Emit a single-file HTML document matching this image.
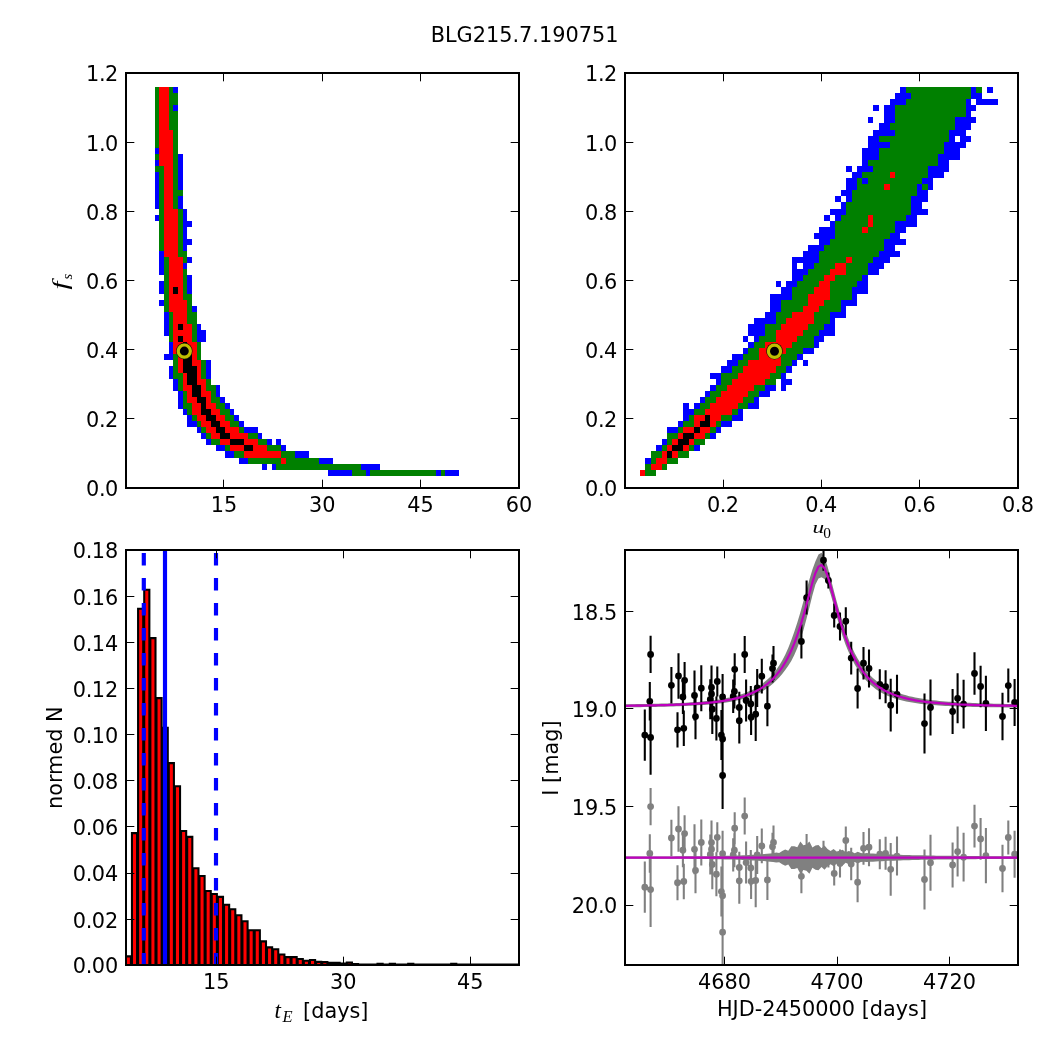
<!DOCTYPE html>
<html lang="en"><head><meta charset="utf-8"><title>BLG215.7.190751</title>
<style>html,body{margin:0;padding:0;background:#fff}svg{display:block}text{font-family:"DejaVu Sans","Liberation Sans",sans-serif;font-size:20.83px;fill:#000}.m{font-family:"Liberation Serif","DejaVu Serif",serif;font-style:italic}.s{font-size:14.6px}.r{font-family:"Liberation Serif","DejaVu Serif",serif;font-size:15.4px}</style></head><body>
<svg width="1050" height="1050" viewBox="0 0 1050 1050">
<rect width="1050" height="1050" fill="#fff"/>
<text x="524.6" y="41.6" text-anchor="middle">BLG215.7.190751</text>
<path d="M159 87h10v6h-10zM159 93h10v6h-10zM159 99h10v6h-10zM159 105h10v6h-10zM159 111h10v6h-10zM159 117h10v6h-10zM159 123h10v7h-10zM159 130h14v6h-14zM159 136h14v6h-14zM159 142h14v6h-14zM159 148h14v6h-14zM159 154h14v6h-14zM159 160h14v6h-14zM164 166h9v6h-9zM164 172h9v6h-9zM164 178h9v6h-9zM164 184h9v6h-9zM164 190h9v6h-9zM164 196h9v6h-9zM164 202h9v7h-9zM164 209h14v6h-14zM164 215h14v6h-14zM164 221h14v6h-14zM164 227h14v6h-14zM164 233h14v6h-14zM164 239h14v6h-14zM164 245h14v6h-14zM164 251h14v6h-14zM169 257h14v6h-14zM169 263h14v6h-14zM169 269h14v6h-14zM169 275h14v6h-14zM169 281h14v6h-14zM169 287h4v7h-4zM178 287h5v7h-5zM169 294h14v6h-14zM169 300h18v6h-18zM169 306h18v6h-18zM173 312h14v6h-14zM173 318h14v6h-14zM173 324h5v6h-5zM183 324h9v6h-9zM173 330h19v6h-19zM173 336h5v6h-5zM183 336h9v6h-9zM173 342h10v6h-10zM187 342h10v6h-10zM173 348h10v6h-10zM187 348h10v6h-10zM178 354h5v6h-5zM192 354h5v6h-5zM178 360h5v6h-5zM192 360h9v6h-9zM178 366h5v7h-5zM197 366h4v7h-4zM183 373h4v6h-4zM197 373h4v6h-4zM183 379h4v6h-4zM197 379h9v6h-9zM183 385h9v6h-9zM201 385h5v6h-5zM187 391h5v6h-5zM201 391h10v6h-10zM187 397h10v6h-10zM206 397h5v6h-5zM192 403h9v6h-9zM206 403h10v6h-10zM192 409h9v6h-9zM211 409h9v6h-9zM197 415h9v6h-9zM216 415h9v6h-9zM201 421h10v6h-10zM220 421h10v6h-10zM206 427h10v6h-10zM225 427h14v6h-14zM211 433h9v6h-9zM230 433h18v6h-18zM220 439h10v6h-10zM244 439h14v6h-14zM230 445h14v6h-14zM253 445h14v6h-14zM244 451h37v7h-37zM281 458h5v6h-5z" fill="#ff0000" shape-rendering="crispEdges"/>
<path d="M155 87h4v6h-4zM169 87h4v6h-4zM155 93h4v6h-4zM169 93h9v6h-9zM155 99h4v6h-4zM169 99h9v6h-9zM155 105h4v6h-4zM169 105h4v6h-4zM155 111h4v6h-4zM169 111h9v6h-9zM155 117h4v6h-4zM169 117h9v6h-9zM155 123h4v7h-4zM169 123h9v7h-9zM155 130h4v6h-4zM173 130h5v6h-5zM155 136h4v6h-4zM173 136h5v6h-5zM155 142h4v6h-4zM173 142h5v6h-5zM173 148h5v6h-5zM155 154h4v6h-4zM173 154h5v6h-5zM173 160h5v6h-5zM155 166h9v6h-9zM173 166h5v6h-5zM159 172h5v6h-5zM173 172h5v6h-5zM159 178h5v6h-5zM173 178h5v6h-5zM159 184h5v6h-5zM173 184h5v6h-5zM159 190h5v6h-5zM173 190h10v6h-10zM159 196h5v6h-5zM173 196h5v6h-5zM159 202h5v7h-5zM173 202h5v7h-5zM159 209h5v6h-5zM178 209h5v6h-5zM159 215h5v6h-5zM178 215h5v6h-5zM159 221h5v6h-5zM178 221h5v6h-5zM159 227h5v6h-5zM178 227h5v6h-5zM159 233h5v6h-5zM178 233h5v6h-5zM159 239h5v6h-5zM178 239h5v6h-5zM159 245h5v6h-5zM178 245h5v6h-5zM178 251h9v6h-9zM164 257h5v6h-5zM183 257h4v6h-4zM164 263h5v6h-5zM164 269h5v6h-5zM183 269h4v6h-4zM164 275h5v6h-5zM183 275h4v6h-4zM164 281h5v6h-5zM183 281h4v6h-4zM164 287h5v7h-5zM183 287h4v7h-4zM164 294h5v6h-5zM183 294h9v6h-9zM164 300h5v6h-5zM187 300h5v6h-5zM164 306h5v6h-5zM187 306h5v6h-5zM169 312h4v6h-4zM187 312h10v6h-10zM169 318h4v6h-4zM187 318h10v6h-10zM169 324h4v6h-4zM192 324h5v6h-5zM169 330h4v6h-4zM192 330h5v6h-5zM169 336h4v6h-4zM192 336h5v6h-5zM197 342h4v6h-4zM197 348h4v6h-4zM173 354h5v6h-5zM197 354h4v6h-4zM173 360h5v6h-5zM201 360h5v6h-5zM173 366h5v7h-5zM201 366h5v7h-5zM173 373h10v6h-10zM201 373h5v6h-5zM178 379h5v6h-5zM206 379h5v6h-5zM178 385h5v6h-5zM206 385h10v6h-10zM183 391h4v6h-4zM211 391h5v6h-5zM183 397h4v6h-4zM211 397h9v6h-9zM183 403h9v6h-9zM216 403h9v6h-9zM187 409h5v6h-5zM220 409h10v6h-10zM192 415h5v6h-5zM225 415h9v6h-9zM197 421h4v6h-4zM230 421h9v6h-9zM201 427h5v6h-5zM239 427h5v6h-5zM206 433h5v6h-5zM248 433h10v6h-10zM211 439h9v6h-9zM258 439h9v6h-9zM225 445h5v6h-5zM267 445h14v6h-14zM234 451h10v7h-10zM281 451h14v7h-14zM248 458h33v6h-33zM286 458h33v6h-33zM276 464h85v6h-85zM352 470h14v6h-14zM370 470h66v6h-66zM441 470h4v6h-4z" fill="#008000" shape-rendering="crispEdges"/>
<path d="M173 87h5v6h-5zM173 105h5v6h-5zM155 148h4v6h-4zM178 154h5v6h-5zM155 160h4v6h-4zM178 160h5v6h-5zM178 166h5v6h-5zM155 172h4v6h-4zM178 172h5v6h-5zM155 178h4v6h-4zM178 178h5v6h-5zM155 184h4v6h-4zM178 184h5v6h-5zM155 190h4v6h-4zM155 196h4v6h-4zM178 196h5v6h-5zM155 202h4v7h-4zM178 202h5v7h-5zM183 209h4v6h-4zM155 215h4v6h-4zM183 215h4v6h-4zM183 221h9v6h-9zM183 227h4v6h-4zM183 233h4v6h-4zM183 239h9v6h-9zM183 245h4v6h-4zM159 251h5v6h-5zM159 257h5v6h-5zM187 257h5v6h-5zM159 263h5v6h-5zM183 263h4v6h-4zM159 269h5v6h-5zM187 275h5v6h-5zM159 281h5v6h-5zM187 281h5v6h-5zM159 287h5v7h-5zM187 287h5v7h-5zM159 300h5v6h-5zM192 306h5v6h-5zM164 312h5v6h-5zM164 318h5v6h-5zM164 324h5v6h-5zM197 324h4v6h-4zM164 330h5v6h-5zM197 330h9v6h-9zM197 336h9v6h-9zM169 342h4v6h-4zM169 348h4v6h-4zM164 354h9v6h-9zM206 360h5v6h-5zM169 366h4v7h-4zM206 366h5v7h-5zM169 373h4v6h-4zM206 373h5v6h-5zM173 379h5v6h-5zM173 385h5v6h-5zM216 385h4v6h-4zM178 391h5v6h-5zM216 391h4v6h-4zM178 397h5v6h-5zM220 397h5v6h-5zM178 403h5v6h-5zM225 403h5v6h-5zM183 409h4v6h-4zM230 409h4v6h-4zM187 415h5v6h-5zM234 415h5v6h-5zM187 421h10v6h-10zM239 421h5v6h-5zM197 427h4v6h-4zM244 427h14v6h-14zM201 433h5v6h-5zM258 433h4v6h-4zM206 439h5v6h-5zM267 439h5v6h-5zM276 439h5v6h-5zM216 445h9v6h-9zM281 445h5v6h-5zM225 451h9v7h-9zM295 451h14v7h-14zM239 458h9v6h-9zM319 458h14v6h-14zM262 464h5v6h-5zM272 464h4v6h-4zM361 464h19v6h-19zM328 470h24v6h-24zM366 470h4v6h-4zM436 470h5v6h-5zM445 470h14v6h-14z" fill="#0000ff" shape-rendering="crispEdges"/>
<path d="M173 287h5v7h-5zM178 324h5v6h-5zM178 336h5v6h-5zM183 342h4v6h-4zM183 348h4v6h-4zM183 354h9v6h-9zM183 360h9v6h-9zM183 366h14v7h-14zM187 373h10v6h-10zM187 379h10v6h-10zM192 385h9v6h-9zM192 391h9v6h-9zM197 397h9v6h-9zM201 403h5v6h-5zM201 409h10v6h-10zM206 415h10v6h-10zM211 421h9v6h-9zM216 427h9v6h-9zM220 433h10v6h-10zM230 439h14v6h-14zM244 445h9v6h-9z" fill="#000000" shape-rendering="crispEdges"/>
<circle cx="184.3" cy="351.1" r="8.3" fill="#141400"/>
<circle cx="184.3" cy="351.1" r="6.1" fill="#000" stroke="#bfbf00" stroke-width="3.2"/>
<rect x="126" y="73" width="393" height="415" fill="none" stroke="#000" stroke-width="2"/>
<path d="M223.5 488v-8.33M223.5 73v8.33M322.5 488v-8.33M322.5 73v8.33M420.5 488v-8.33M420.5 73v8.33M126 418.5h8.33M519 418.5h-8.33M126 349.5h8.33M519 349.5h-8.33M126 280.5h8.33M519 280.5h-8.33M126 211.5h8.33M519 211.5h-8.33M126 142.5h8.33M519 142.5h-8.33" stroke="#000" stroke-width="1" fill="none"/>
<text x="223.9" y="512.23" text-anchor="middle">15</text>
<text x="322.2" y="512.23" text-anchor="middle">30</text>
<text x="420.5" y="512.23" text-anchor="middle">45</text>
<text x="519" y="512.23" text-anchor="middle">60</text>
<text x="118.27" y="496.4" text-anchor="end">0<tspan dx="-0.5">.</tspan><tspan dx="-0.5">0</tspan></text>
<text x="118.27" y="427.12" text-anchor="end">0<tspan dx="-0.5">.</tspan><tspan dx="-0.5">2</tspan></text>
<text x="118.27" y="358.03" text-anchor="end">0<tspan dx="-0.5">.</tspan><tspan dx="-0.5">4</tspan></text>
<text x="118.27" y="288.95" text-anchor="end">0<tspan dx="-0.5">.</tspan><tspan dx="-0.5">6</tspan></text>
<text x="118.27" y="219.87" text-anchor="end">0<tspan dx="-0.5">.</tspan><tspan dx="-0.5">8</tspan></text>
<text x="118.27" y="150.78" text-anchor="end">1<tspan dx="-0.5">.</tspan><tspan dx="-0.5">0</tspan></text>
<text x="118.27" y="81.4" text-anchor="end">1<tspan dx="-0.5">.</tspan><tspan dx="-0.5">2</tspan></text>
<text class="m" transform="translate(67.4 289.4) rotate(-90) scale(1.4 1)">f</text>
<text class="m s" transform="translate(72.2 279.4) rotate(-90)">s</text>
<path d="M890 172h5v6h-5zM884 184h6v6h-6zM868 215h5v6h-5zM868 221h5v6h-5zM862 227h6v6h-6zM846 257h6v6h-6zM835 263h11v6h-11zM830 269h16v6h-16zM824 275h11v6h-11zM819 281h11v6h-11zM814 287h16v7h-16zM808 294h22v6h-22zM808 300h16v6h-16zM803 306h16v6h-16zM792 312h22v6h-22zM786 318h28v6h-28zM781 324h27v6h-27zM776 330h27v6h-27zM776 336h21v6h-21zM765 342h27v6h-27zM759 348h27v6h-27zM759 354h22v6h-22zM748 360h33v6h-33zM743 366h33v7h-33zM738 373h32v6h-32zM732 379h33v6h-33zM727 385h27v6h-27zM721 391h27v6h-27zM716 397h27v6h-27zM710 403h28v6h-28zM705 409h27v6h-27zM694 415h11v6h-11zM710 415h11v6h-11zM694 421h6v6h-6zM710 421h6v6h-6zM683 427h11v6h-11zM700 427h10v6h-10zM678 433h5v6h-5zM694 433h11v6h-11zM672 439h6v6h-6zM689 439h5v6h-5zM667 445h5v6h-5zM683 445h6v6h-6zM662 451h5v7h-5zM672 451h6v7h-6zM656 458h11v6h-11zM651 464h11v6h-11zM640 470h5v6h-5z" fill="#ff0000" shape-rendering="crispEdges"/>
<path d="M906 87h65v6h-65zM976 87h6v6h-6zM911 93h60v6h-60zM906 99h60v6h-60zM895 105h71v6h-71zM895 111h71v6h-71zM895 117h60v6h-60zM890 123h65v7h-65zM895 130h54v6h-54zM879 136h70v6h-70zM890 142h54v6h-54zM879 148h65v6h-65zM879 154h59v6h-59zM868 160h70v6h-70zM873 166h55v6h-55zM862 172h28v6h-28zM895 172h33v6h-33zM857 178h5v6h-5zM868 178h54v6h-54zM857 184h27v6h-27zM890 184h27v6h-27zM922 184h6v6h-6zM852 190h65v6h-65zM852 196h59v6h-59zM846 202h65v7h-65zM846 209h65v6h-65zM841 215h27v6h-27zM873 215h33v6h-33zM835 221h33v6h-33zM873 221h22v6h-22zM835 227h27v6h-27zM868 227h27v6h-27zM835 233h55v6h-55zM830 239h54v6h-54zM824 245h60v6h-60zM819 251h60v6h-60zM819 257h27v6h-27zM852 257h21v6h-21zM814 263h21v6h-21zM846 263h22v6h-22zM808 269h22v6h-22zM846 269h22v6h-22zM803 275h21v6h-21zM835 275h27v6h-27zM797 281h22v6h-22zM830 281h27v6h-27zM792 287h22v7h-22zM830 287h22v7h-22zM792 294h16v6h-16zM830 294h22v6h-22zM781 300h27v6h-27zM824 300h17v6h-17zM781 306h22v6h-22zM819 306h22v6h-22zM776 312h16v6h-16zM814 312h16v6h-16zM776 318h10v6h-10zM814 318h16v6h-16zM765 324h16v6h-16zM808 324h16v6h-16zM765 330h11v6h-11zM803 330h16v6h-16zM759 336h17v6h-17zM797 336h17v6h-17zM754 342h11v6h-11zM792 342h22v6h-22zM748 348h11v6h-11zM786 348h17v6h-17zM743 354h16v6h-16zM781 354h16v6h-16zM738 360h10v6h-10zM781 360h11v6h-11zM732 366h11v7h-11zM776 366h10v7h-10zM721 373h17v6h-17zM770 373h11v6h-11zM721 379h11v6h-11zM765 379h11v6h-11zM716 385h11v6h-11zM754 385h11v6h-11zM710 391h11v6h-11zM748 391h11v6h-11zM705 397h11v6h-11zM743 397h11v6h-11zM700 403h10v6h-10zM738 403h10v6h-10zM694 409h11v6h-11zM732 409h6v6h-6zM689 415h5v6h-5zM721 415h11v6h-11zM683 421h11v6h-11zM716 421h5v6h-5zM678 427h5v6h-5zM710 427h6v6h-6zM667 433h11v6h-11zM705 433h5v6h-5zM667 439h5v6h-5zM694 439h11v6h-11zM662 445h5v6h-5zM689 445h5v6h-5zM651 451h11v7h-11zM678 451h11v7h-11zM651 458h5v6h-5zM667 458h11v6h-11zM645 464h6v6h-6zM662 464h5v6h-5zM645 470h11v6h-11z" fill="#008000" shape-rendering="crispEdges"/>
<path d="M900 87h6v6h-6zM971 87h5v6h-5zM987 87h6v6h-6zM895 93h16v6h-16zM971 93h11v6h-11zM890 99h16v6h-16zM966 99h5v6h-5zM976 99h22v6h-22zM873 105h6v6h-6zM884 105h11v6h-11zM966 105h10v6h-10zM884 111h11v6h-11zM966 111h5v6h-5zM868 117h5v6h-5zM884 117h11v6h-11zM955 117h21v6h-21zM879 123h11v7h-11zM955 123h16v7h-16zM873 130h22v6h-22zM949 130h17v6h-17zM868 136h11v6h-11zM949 136h6v6h-6zM960 136h11v6h-11zM868 142h22v6h-22zM944 142h22v6h-22zM862 148h17v6h-17zM944 148h16v6h-16zM862 154h17v6h-17zM938 154h22v6h-22zM862 160h6v6h-6zM938 160h11v6h-11zM846 166h6v6h-6zM857 166h16v6h-16zM928 166h21v6h-21zM852 172h10v6h-10zM928 172h16v6h-16zM846 178h11v6h-11zM862 178h6v6h-6zM922 178h11v6h-11zM846 184h11v6h-11zM917 184h5v6h-5zM928 184h5v6h-5zM841 190h11v6h-11zM917 190h11v6h-11zM835 196h6v6h-6zM846 196h6v6h-6zM911 196h17v6h-17zM841 202h5v7h-5zM911 202h11v7h-11zM830 209h16v6h-16zM911 209h17v6h-17zM824 215h6v6h-6zM835 215h6v6h-6zM906 215h11v6h-11zM830 221h5v6h-5zM895 221h22v6h-22zM819 227h16v6h-16zM895 227h11v6h-11zM814 233h21v6h-21zM890 233h10v6h-10zM819 239h11v6h-11zM884 239h22v6h-22zM808 245h16v6h-16zM884 245h11v6h-11zM803 251h16v6h-16zM879 251h21v6h-21zM792 257h27v6h-27zM873 257h17v6h-17zM792 263h5v6h-5zM803 263h11v6h-11zM868 263h16v6h-16zM792 269h16v6h-16zM868 269h11v6h-11zM792 275h11v6h-11zM862 275h6v6h-6zM776 281h5v6h-5zM786 281h11v6h-11zM857 281h11v6h-11zM781 287h11v7h-11zM852 287h16v7h-16zM770 294h22v6h-22zM852 294h5v6h-5zM770 300h11v6h-11zM841 300h16v6h-16zM770 306h11v6h-11zM841 306h5v6h-5zM765 312h11v6h-11zM830 312h16v6h-16zM754 318h22v6h-22zM830 318h5v6h-5zM748 324h17v6h-17zM824 324h11v6h-11zM748 330h17v6h-17zM819 330h16v6h-16zM743 336h5v6h-5zM754 336h5v6h-5zM814 336h10v6h-10zM748 342h6v6h-6zM814 342h5v6h-5zM743 348h5v6h-5zM803 348h11v6h-11zM732 354h11v6h-11zM797 354h6v6h-6zM727 360h11v6h-11zM792 360h5v6h-5zM803 360h5v6h-5zM721 366h11v7h-11zM786 366h6v7h-6zM710 373h11v6h-11zM781 373h5v6h-5zM716 379h5v6h-5zM781 379h11v6h-11zM710 385h6v6h-6zM765 385h11v6h-11zM781 385h5v6h-5zM705 391h5v6h-5zM759 391h11v6h-11zM700 397h5v6h-5zM754 397h5v6h-5zM683 403h6v6h-6zM694 403h6v6h-6zM748 403h11v6h-11zM683 409h11v6h-11zM738 409h5v6h-5zM683 415h6v6h-6zM732 415h11v6h-11zM678 421h5v6h-5zM721 421h11v6h-11zM667 427h11v6h-11zM716 427h5v6h-5zM710 433h6v6h-6zM662 439h5v6h-5zM656 445h6v6h-6zM694 445h6v6h-6zM645 458h6v6h-6z" fill="#0000ff" shape-rendering="crispEdges"/>
<path d="M705 415h5v6h-5zM700 421h10v6h-10zM694 427h6v6h-6zM683 433h11v6h-11zM678 439h11v6h-11zM672 445h11v6h-11zM667 451h5v7h-5z" fill="#000000" shape-rendering="crispEdges"/>
<circle cx="774.5" cy="351.2" r="8.3" fill="#141400"/>
<circle cx="774.5" cy="351.2" r="6.1" fill="#000" stroke="#bfbf00" stroke-width="3.2"/>
<rect x="625" y="73" width="393" height="415" fill="none" stroke="#000" stroke-width="2"/>
<path d="M723.5 488v-8.33M723.5 73v8.33M821.5 488v-8.33M821.5 73v8.33M919.5 488v-8.33M919.5 73v8.33M625 418.5h8.33M1018 418.5h-8.33M625 349.5h8.33M1018 349.5h-8.33M625 280.5h8.33M1018 280.5h-8.33M625 211.5h8.33M1018 211.5h-8.33M625 142.5h8.33M1018 142.5h-8.33" stroke="#000" stroke-width="1" fill="none"/>
<text x="723" y="512.23" text-anchor="middle">0<tspan dx="-0.5">.</tspan><tspan dx="-0.5">2</tspan></text>
<text x="821.3" y="512.23" text-anchor="middle">0<tspan dx="-0.5">.</tspan><tspan dx="-0.5">4</tspan></text>
<text x="919.6" y="512.23" text-anchor="middle">0<tspan dx="-0.5">.</tspan><tspan dx="-0.5">6</tspan></text>
<text x="1018" y="512.23" text-anchor="middle">0<tspan dx="-0.5">.</tspan><tspan dx="-0.5">8</tspan></text>
<text x="617.27" y="496.4" text-anchor="end">0<tspan dx="-0.5">.</tspan><tspan dx="-0.5">0</tspan></text>
<text x="617.27" y="427.12" text-anchor="end">0<tspan dx="-0.5">.</tspan><tspan dx="-0.5">2</tspan></text>
<text x="617.27" y="358.03" text-anchor="end">0<tspan dx="-0.5">.</tspan><tspan dx="-0.5">4</tspan></text>
<text x="617.27" y="288.95" text-anchor="end">0<tspan dx="-0.5">.</tspan><tspan dx="-0.5">6</tspan></text>
<text x="617.27" y="219.87" text-anchor="end">0<tspan dx="-0.5">.</tspan><tspan dx="-0.5">8</tspan></text>
<text x="617.27" y="150.78" text-anchor="end">1<tspan dx="-0.5">.</tspan><tspan dx="-0.5">0</tspan></text>
<text x="617.27" y="81.4" text-anchor="end">1<tspan dx="-0.5">.</tspan><tspan dx="-0.5">2</tspan></text>
<text class="m" transform="translate(812.4 532.6) scale(1.12 0.84)">u</text>
<text class="r" x="823.2" y="537.6">0</text>
<clipPath id="c3"><rect x="125" y="550" width="395" height="416.04"/></clipPath><g clip-path="url(#c3)">
<path d="M125.8 965V956.4H130.94V965zM131.94 965V833.1H137.08V965zM138.08 965V608.7H143.22V965zM144.22 965V589.7H149.36V965zM150.36 965V638.1H155.5V965zM156.5 965V698.1H161.63V965zM162.63 965V727.7H167.77V965zM168.77 965V763.1H173.91V965zM174.91 965V786.2H180.05V965zM181.05 965V831H186.19V965zM187.19 965V836.9H192.33V965zM193.33 965V868.3H198.47V965zM199.47 965V876H204.61V965zM205.61 965V891H210.75V965zM211.75 965V894H216.88V965zM217.88 965V896.9H223.02V965zM224.02 965V904.8H229.16V965zM230.16 965V909.3H235.3V965zM236.3 965V915.2H241.44V965zM242.44 965V921.2H247.58V965zM248.58 965V930.2H253.72V965zM254.72 965V930.2H259.86V965zM260.86 965V941.4H266V965zM267 965V947.4H272.14V965zM273.14 965V949.3H278.27V965zM279.27 965V954.5H284.41V965zM285.41 965V957.1H290.55V965zM291.55 965V957.1H296.69V965zM297.69 965V959H302.83V965zM303.83 965V960.7H308.97V965zM309.97 965V960H315.11V965zM316.11 965V961.9H321.25V965zM322.25 965V962.1H327.39V965zM328.39 965V962.9H333.53V965zM334.53 965V962.9H339.67V965zM340.67 965V963.5H345.8V965zM346.8 965V962.6H351.94V965zM352.94 965V964H358.08V965zM359.08 965V964.6H364.22V965zM365.22 965V964.6H370.36V965zM371.36 965V964.6H376.5V965zM377.5 965V963.7H382.64V965zM383.64 965V964.6H388.78V965zM389.78 965V963.7H394.92V965zM395.92 965V964.6H401.06V965zM402.06 965V964.6H407.19V965zM408.19 965V963.7H413.33V965zM414.33 965V964.6H419.47V965zM420.47 965V964.6H425.61V965zM426.61 965V964.6H431.75V965zM432.75 965V964.6H437.89V965zM438.89 965V964.6H444.03V965zM445.03 965V964.6H450.17V965zM451.17 965V963.7H456.31V965zM457.31 965V964.6H462.45V965zM463.45 965V964.6H468.58V965zM469.58 965V964.6H474.72V965zM475.72 965V964.6H480.86V965zM481.86 965V964.6H487V965zM488 965V964.6H493.14V965zM494.14 965V964.6H499.28V965zM500.28 965V964.6H505.42V965zM506.42 965V964.6H511.56V965zM512.56 965V964.6H517.7V965z" fill="#ff0000" stroke="#000" stroke-width="2.08"/>
</g>
<path d="M143.8 965.6V550" stroke="#0000ff" stroke-width="4.17" stroke-dasharray="12.5 12.5" fill="none"/>
<path d="M216 965.6V550" stroke="#0000ff" stroke-width="4.17" stroke-dasharray="12.5 12.5" fill="none"/>
<path d="M165 965V550" stroke="#0000ff" stroke-width="4.17" fill="none"/>
<rect x="126" y="550" width="393" height="415" fill="none" stroke="#000" stroke-width="2"/>
<path d="M216.5 965v-8.33M216.5 550v8.33M343.5 965v-8.33M343.5 550v8.33M470.5 965v-8.33M470.5 550v8.33M126 919.5h8.33M519 919.5h-8.33M126 873.5h8.33M519 873.5h-8.33M126 826.5h8.33M519 826.5h-8.33M126 780.5h8.33M519 780.5h-8.33M126 734.5h8.33M519 734.5h-8.33M126 688.5h8.33M519 688.5h-8.33M126 642.5h8.33M519 642.5h-8.33M126 596.5h8.33M519 596.5h-8.33" stroke="#000" stroke-width="1" fill="none"/>
<text x="216.2" y="989.23" text-anchor="middle">15</text>
<text x="343.2" y="989.23" text-anchor="middle">30</text>
<text x="470.2" y="989.23" text-anchor="middle">45</text>
<text x="118.27" y="973.4" text-anchor="end">0<tspan dx="-0.5">.</tspan><tspan dx="-0.5">00</tspan></text>
<text x="118.27" y="927.56" text-anchor="end">0<tspan dx="-0.5">.</tspan><tspan dx="-0.5">02</tspan></text>
<text x="118.27" y="881.41" text-anchor="end">0<tspan dx="-0.5">.</tspan><tspan dx="-0.5">04</tspan></text>
<text x="118.27" y="835.27" text-anchor="end">0<tspan dx="-0.5">.</tspan><tspan dx="-0.5">06</tspan></text>
<text x="118.27" y="789.12" text-anchor="end">0<tspan dx="-0.5">.</tspan><tspan dx="-0.5">08</tspan></text>
<text x="118.27" y="742.98" text-anchor="end">0<tspan dx="-0.5">.</tspan><tspan dx="-0.5">10</tspan></text>
<text x="118.27" y="696.83" text-anchor="end">0<tspan dx="-0.5">.</tspan><tspan dx="-0.5">12</tspan></text>
<text x="118.27" y="650.69" text-anchor="end">0<tspan dx="-0.5">.</tspan><tspan dx="-0.5">14</tspan></text>
<text x="118.27" y="604.54" text-anchor="end">0<tspan dx="-0.5">.</tspan><tspan dx="-0.5">16</tspan></text>
<text x="118.27" y="558.4" text-anchor="end">0<tspan dx="-0.5">.</tspan><tspan dx="-0.5">18</tspan></text>
<text transform="translate(62.4 757.7) rotate(-90)" text-anchor="middle">normed N</text>
<text x="274.6" y="1018"><tspan class="m" style="font-size:23px">t</tspan><tspan class="m" dy="4.4" dx="1.4" style="font-size:16.5px">E</tspan><tspan dy="-4.4" dx="10.6">[days]</tspan></text>
<clipPath id="c4"><rect x="625" y="550" width="393" height="415"/></clipPath>
<g clip-path="url(#c4)">
<path d="M625 704.3L628.02 704.26L631.05 704.21L634.07 704.16L637.09 704.11L640.12 704.06L643.14 704.01L646.16 703.95L649.18 703.88L652.21 703.81L655.23 703.74L658.25 703.67L661.28 703.58L664.3 703.49L667.32 703.4L670.35 703.3L673.37 703.19L676.39 703.07L679.42 702.94L682.44 702.8L685.46 702.65L688.48 702.49L691.51 702.31L694.53 702.12L697.55 701.91L700.58 701.67L703.6 701.37L706.62 701.04L709.65 700.69L712.67 700.31L715.69 699.9L718.72 699.45L721.74 698.96L724.76 698.43L727.78 697.84L730.81 697.2L733.83 696.5L736.85 695.72L739.88 694.86L742.9 693.8L745.92 692.64L748.95 691.36L751.97 689.94L754.99 688.38L758.02 686.63L761.04 684.65L764.06 682.37L767.08 679.82L770.11 676.98L773.13 673.8L776.15 670.04L779.18 665.54L782.2 660.51L785.22 654.85L788.25 647.95L791.27 640.27L794.29 631.72L797.32 622.54L800.34 612.43L803.36 601.47L806.38 590.68L809.41 579.45L812.43 569.4L815.45 561.17L818.48 554.62L821.5 552.67L824.52 557.5L827.55 566.4L830.57 577.86L833.59 589.79L836.62 601.16L839.64 612.03L842.66 622.08L845.68 631.16L848.71 639.4L851.73 646.71L854.75 653.19L857.78 658.72L860.8 663.57L863.82 667.86L866.85 671.65L869.87 675.01L872.89 677.95L875.92 680.56L878.94 682.88L881.96 684.96L884.98 686.82L888.01 688.48L891.03 689.97L894.05 691.28L897.08 692.46L900.1 693.52L903.12 694.49L906.15 695.36L909.17 696.16L912.19 696.86L915.22 697.48L918.24 698.05L921.26 698.57L924.28 699.04L927.31 699.48L930.33 699.88L933.35 700.25L936.38 700.59L939.4 700.91L942.42 701.18L945.45 701.43L948.47 701.65L951.49 701.86L954.52 702.05L957.54 702.24L960.56 702.4L963.58 702.56L966.61 702.71L969.63 702.85L972.65 702.98L975.68 703.1L978.7 703.21L981.72 703.31L984.75 703.4L987.77 703.48L990.79 703.56L993.82 703.64L996.84 703.71L999.86 703.77L1002.88 703.83L1005.91 703.89L1008.93 703.95L1011.95 704L1014.98 704.05L1018 704.1L1018 707.51L1014.98 707.5L1011.95 707.48L1008.93 707.45L1005.91 707.43L1002.88 707.4L999.86 707.37L996.84 707.33L993.82 707.29L990.79 707.25L987.77 707.21L984.75 707.15L981.72 707.1L978.7 707.04L975.68 706.98L972.65 706.92L969.63 706.85L966.61 706.78L963.58 706.69L960.56 706.59L957.54 706.48L954.52 706.36L951.49 706.23L948.47 706.08L945.45 705.92L942.42 705.73L939.4 705.54L936.38 705.34L933.35 705.12L930.33 704.87L927.31 704.59L924.28 704.27L921.26 703.92L918.24 703.52L915.22 703.07L912.19 702.57L909.17 702.02L906.15 701.43L903.12 700.77L900.1 700.01L897.08 699.16L894.05 698.19L891.03 697.1L888.01 695.88L884.98 694.52L881.96 692.96L878.94 691.19L875.92 689.17L872.89 686.86L869.87 684.23L866.85 681.27L863.82 677.88L860.8 674L857.78 669.55L854.75 664.46L851.73 658.83L848.71 652.36L845.68 644.97L842.66 636.41L839.64 626.79L836.62 616.16L833.59 604.79L830.57 594.05L827.55 585.11L824.52 578.97L821.5 577.17L818.48 578.61L815.45 584.62L812.43 595.37L809.41 607.53L806.38 619.2L803.36 630.42L800.34 639.77L797.32 647.98L794.29 655.08L791.27 660.91L788.25 665.87L785.22 670.05L782.2 674.11L779.18 677.62L776.15 680.62L773.13 683.45L770.11 686.07L767.08 688.35L764.06 690.33L761.04 692.05L758.02 693.61L754.99 695.02L751.97 696.26L748.95 697.34L745.92 698.29L742.9 699.12L739.88 699.85L736.85 700.59L733.83 701.25L730.81 701.83L727.78 702.35L724.76 702.82L721.74 703.23L718.72 703.6L715.69 703.93L712.67 704.22L709.65 704.48L706.62 704.71L703.6 704.91L700.58 705.09L697.55 705.3L694.53 705.49L691.51 705.67L688.48 705.83L685.46 705.97L682.44 706.11L679.42 706.23L676.39 706.34L673.37 706.44L670.35 706.54L667.32 706.62L664.3 706.7L661.28 706.78L658.25 706.84L655.23 706.9L652.21 706.96L649.18 707.01L646.16 707.06L643.14 707.1L640.12 707.14L637.09 707.18L634.07 707.21L631.05 707.24L628.02 707.27L625 707.3z" fill="#808080"/>
<path d="M625 856.5L628.02 856.48L631.05 856.5L634.07 856.47L637.09 856.47L640.12 856.47L643.14 856.44L646.16 856.45L649.18 856.44L652.21 856.42L655.23 856.43L658.25 856.41L661.28 856.4L664.3 856.41L667.32 856.38L670.35 856.38L673.37 856.38L676.39 856.35L679.42 856.36L682.44 856.35L685.46 856.33L688.48 856.34L691.51 856.32L694.53 856.31L697.55 856.32L700.58 856.28L703.6 856.23L706.62 856.18L709.65 856.09L712.67 856.06L715.69 855.99L718.72 855.91L721.74 855.89L724.76 855.79L727.78 855.74L730.81 855.71L733.83 855.6L736.85 855.57L739.88 855.52L742.9 855.3L745.92 855.21L748.95 855.01L751.97 854.81L754.99 854.73L758.02 854.48L761.04 854.29L764.06 854.08L767.08 853.67L770.11 853.49L773.13 853.21L776.15 852.62L779.18 852.92L782.2 850.92L785.22 849.55L788.25 850.78L791.27 846.16L794.29 846.31L797.32 847.21L800.34 841.56L803.36 845.23L806.38 844.41L809.41 841.44L812.43 847.5L815.45 845.38L818.48 844.94L821.5 848.13L824.52 845.45L827.55 848.94L830.57 850.89L833.59 849.07L836.62 851.5L839.64 850.71L842.66 849.77L845.68 852.37L848.71 850.88L851.73 851.63L854.75 853.29L857.78 851.69L860.8 853.09L863.82 853.42L866.85 853.11L869.87 853.46L872.89 853.54L875.92 853.65L878.94 853.92L881.96 853.95L884.98 854.14L888.01 854.35L891.03 854.38L894.05 854.57L897.08 854.67L900.1 854.71L903.12 854.9L906.15 854.95L909.17 855.05L912.19 855.18L915.22 855.17L918.24 855.27L921.26 855.35L924.28 855.35L927.31 855.47L930.33 855.51L933.35 855.54L936.38 855.66L939.4 855.68L942.42 855.71L945.45 855.78L948.47 855.76L951.49 855.82L954.52 855.86L957.54 855.85L960.56 855.92L963.58 855.94L966.61 855.95L969.63 856.02L972.65 856.01L975.68 856.05L978.7 856.1L981.72 856.09L984.75 856.13L987.77 856.15L990.79 856.14L993.82 856.19L996.84 856.18L999.86 856.19L1002.88 856.23L1005.91 856.22L1008.93 856.25L1011.95 856.28L1014.98 856.26L1018 856.3L1018 858.9L1014.98 858.94L1011.95 858.92L1008.93 858.95L1005.91 858.98L1002.88 858.97L999.86 859.01L996.84 859.02L993.82 859.01L990.79 859.06L987.77 859.05L984.75 859.07L981.72 859.11L978.7 859.1L975.68 859.15L972.65 859.19L969.63 859.18L966.61 859.25L963.58 859.26L960.56 859.28L957.54 859.35L954.52 859.34L951.49 859.38L948.47 859.44L945.45 859.42L942.42 859.49L939.4 859.52L936.38 859.54L933.35 859.66L930.33 859.69L927.31 859.73L924.28 859.85L921.26 859.85L918.24 859.93L915.22 860.03L912.19 860.02L909.17 860.15L906.15 860.25L903.12 860.3L900.1 860.49L897.08 860.53L894.05 860.63L891.03 860.82L888.01 860.85L884.98 861.06L881.96 861.25L878.94 861.28L875.92 861.55L872.89 861.66L869.87 861.74L866.85 862.09L863.82 861.78L860.8 862.11L857.78 863.51L854.75 861.91L851.73 863.57L848.71 864.32L845.68 862.83L842.66 865.43L839.64 864.49L836.62 863.7L833.59 866.13L830.57 864.31L827.55 866.26L824.52 869.75L821.5 867.07L818.48 870.26L815.45 869.82L812.43 867.7L809.41 873.76L806.38 870.79L803.36 869.97L800.34 873.64L797.32 867.99L794.29 868.89L791.27 869.04L788.25 864.42L785.22 865.65L782.2 864.28L779.18 862.28L776.15 862.58L773.13 861.99L770.11 861.71L767.08 861.53L764.06 861.12L761.04 860.91L758.02 860.72L754.99 860.47L751.97 860.39L748.95 860.19L745.92 859.99L742.9 859.9L739.88 859.68L736.85 859.63L733.83 859.6L730.81 859.49L727.78 859.46L724.76 859.41L721.74 859.31L718.72 859.29L715.69 859.21L712.67 859.14L709.65 859.11L706.62 859.02L703.6 858.97L700.58 858.92L697.55 858.88L694.53 858.89L691.51 858.88L688.48 858.86L685.46 858.87L682.44 858.85L679.42 858.84L676.39 858.85L673.37 858.82L670.35 858.82L667.32 858.82L664.3 858.79L661.28 858.8L658.25 858.79L655.23 858.77L652.21 858.78L649.18 858.76L646.16 858.75L643.14 858.76L640.12 858.73L637.09 858.73L634.07 858.73L631.05 858.7L628.02 858.72L625 858.7z" fill="#808080"/>
<path d="M644.8 861.47V912.87M650.6 787.88V825.28M649.8 834.26V872.66M650.6 852.28V926.88M671.4 819.72V856.32M678.5 806.28V851.68M684.6 815.25V851.85M682.9 833.17V867.17M677.5 865.14V900.34M683.8 863.71V899.31M694.5 824.29V874.29M695.5 847.76V893.16M701.3 819.47V865.47M711.5 820.61V864.61M711.5 829.21V869.21M710.3 834.38V874.38M712.3 839.79V889.19M717.3 822.29V852.29M716.4 852.17V896.17M722.6 830.63V876.63M721.4 866.55V916.55M722.6 865.63V925.63M722.6 898.63V965.63M734.7 812.23V844.23M734.4 833.26V867.26M733.2 838.19V871.59M744.7 797.62V834.62M739.3 851.79V883.19M739.3 857.89V903.69M746.1 841.6V883.6M750.8 850.1V885.7M751.1 863.62V899.02M755.7 853.55V907.15M757.2 835.93V873.93M761.8 828.53V863.33M767.4 859.97V899.97M773.5 825.46V859.46M772.5 832.74V860.74M801.4 859.35V893.35M806.6 834.07V868.07M823.5 840.72V861.72M828.4 851.56V867.56M834.2 861.4V885.4M840 849.46V877.46M845.8 826.42V854.42M851.2 847.77V880.37M857.6 862.26V902.26M863.5 832.04V864.64M869 828.24V866.24M879.8 839.29V869.29M885.6 836.81V869.81M890.7 842.91V895.71M897 836.62V875.62M924.5 849.51V909.51M930.5 834.71V890.71M952.6 842.39V887.59M957.6 826.54V876.54M963.6 832.77V881.57M974.5 804.79V847.39M980.6 818.12V859.72M985.9 828V883.2M1002.5 844.69V892.29M1008.3 820.51V854.51M1014.6 830.73V877.73" stroke="#808080" stroke-width="2.08" fill="none"/>
<path d="M641.4 887.17a3.4 3.4 0 1 0 6.8 0a3.4 3.4 0 1 0 -6.8 0zM647.2 806.58a3.4 3.4 0 1 0 6.8 0a3.4 3.4 0 1 0 -6.8 0zM646.4 853.46a3.4 3.4 0 1 0 6.8 0a3.4 3.4 0 1 0 -6.8 0zM647.2 889.58a3.4 3.4 0 1 0 6.8 0a3.4 3.4 0 1 0 -6.8 0zM668 838.02a3.4 3.4 0 1 0 6.8 0a3.4 3.4 0 1 0 -6.8 0zM675.1 828.98a3.4 3.4 0 1 0 6.8 0a3.4 3.4 0 1 0 -6.8 0zM681.2 833.55a3.4 3.4 0 1 0 6.8 0a3.4 3.4 0 1 0 -6.8 0zM679.5 850.17a3.4 3.4 0 1 0 6.8 0a3.4 3.4 0 1 0 -6.8 0zM674.1 882.74a3.4 3.4 0 1 0 6.8 0a3.4 3.4 0 1 0 -6.8 0zM680.4 881.51a3.4 3.4 0 1 0 6.8 0a3.4 3.4 0 1 0 -6.8 0zM691.1 849.29a3.4 3.4 0 1 0 6.8 0a3.4 3.4 0 1 0 -6.8 0zM692.1 870.46a3.4 3.4 0 1 0 6.8 0a3.4 3.4 0 1 0 -6.8 0zM697.9 842.47a3.4 3.4 0 1 0 6.8 0a3.4 3.4 0 1 0 -6.8 0zM708.1 842.61a3.4 3.4 0 1 0 6.8 0a3.4 3.4 0 1 0 -6.8 0zM708.1 849.21a3.4 3.4 0 1 0 6.8 0a3.4 3.4 0 1 0 -6.8 0zM706.9 854.38a3.4 3.4 0 1 0 6.8 0a3.4 3.4 0 1 0 -6.8 0zM708.9 864.49a3.4 3.4 0 1 0 6.8 0a3.4 3.4 0 1 0 -6.8 0zM713.9 837.29a3.4 3.4 0 1 0 6.8 0a3.4 3.4 0 1 0 -6.8 0zM713 874.17a3.4 3.4 0 1 0 6.8 0a3.4 3.4 0 1 0 -6.8 0zM719.2 853.63a3.4 3.4 0 1 0 6.8 0a3.4 3.4 0 1 0 -6.8 0zM718 891.55a3.4 3.4 0 1 0 6.8 0a3.4 3.4 0 1 0 -6.8 0zM719.2 895.63a3.4 3.4 0 1 0 6.8 0a3.4 3.4 0 1 0 -6.8 0zM719.2 932.13a3.4 3.4 0 1 0 6.8 0a3.4 3.4 0 1 0 -6.8 0zM731.3 828.23a3.4 3.4 0 1 0 6.8 0a3.4 3.4 0 1 0 -6.8 0zM731 850.26a3.4 3.4 0 1 0 6.8 0a3.4 3.4 0 1 0 -6.8 0zM729.8 854.89a3.4 3.4 0 1 0 6.8 0a3.4 3.4 0 1 0 -6.8 0zM741.3 816.12a3.4 3.4 0 1 0 6.8 0a3.4 3.4 0 1 0 -6.8 0zM735.9 867.49a3.4 3.4 0 1 0 6.8 0a3.4 3.4 0 1 0 -6.8 0zM735.9 880.79a3.4 3.4 0 1 0 6.8 0a3.4 3.4 0 1 0 -6.8 0zM742.7 862.6a3.4 3.4 0 1 0 6.8 0a3.4 3.4 0 1 0 -6.8 0zM747.4 867.9a3.4 3.4 0 1 0 6.8 0a3.4 3.4 0 1 0 -6.8 0zM747.7 881.32a3.4 3.4 0 1 0 6.8 0a3.4 3.4 0 1 0 -6.8 0zM752.3 880.35a3.4 3.4 0 1 0 6.8 0a3.4 3.4 0 1 0 -6.8 0zM753.8 854.93a3.4 3.4 0 1 0 6.8 0a3.4 3.4 0 1 0 -6.8 0zM758.4 845.93a3.4 3.4 0 1 0 6.8 0a3.4 3.4 0 1 0 -6.8 0zM764 879.97a3.4 3.4 0 1 0 6.8 0a3.4 3.4 0 1 0 -6.8 0zM770.1 842.46a3.4 3.4 0 1 0 6.8 0a3.4 3.4 0 1 0 -6.8 0zM769.1 846.74a3.4 3.4 0 1 0 6.8 0a3.4 3.4 0 1 0 -6.8 0zM798 876.35a3.4 3.4 0 1 0 6.8 0a3.4 3.4 0 1 0 -6.8 0zM803.2 851.07a3.4 3.4 0 1 0 6.8 0a3.4 3.4 0 1 0 -6.8 0zM820.1 851.22a3.4 3.4 0 1 0 6.8 0a3.4 3.4 0 1 0 -6.8 0zM825 859.56a3.4 3.4 0 1 0 6.8 0a3.4 3.4 0 1 0 -6.8 0zM830.8 873.4a3.4 3.4 0 1 0 6.8 0a3.4 3.4 0 1 0 -6.8 0zM836.6 863.46a3.4 3.4 0 1 0 6.8 0a3.4 3.4 0 1 0 -6.8 0zM842.4 840.42a3.4 3.4 0 1 0 6.8 0a3.4 3.4 0 1 0 -6.8 0zM847.8 864.07a3.4 3.4 0 1 0 6.8 0a3.4 3.4 0 1 0 -6.8 0zM854.2 882.26a3.4 3.4 0 1 0 6.8 0a3.4 3.4 0 1 0 -6.8 0zM860.1 848.34a3.4 3.4 0 1 0 6.8 0a3.4 3.4 0 1 0 -6.8 0zM865.6 847.24a3.4 3.4 0 1 0 6.8 0a3.4 3.4 0 1 0 -6.8 0zM876.4 854.29a3.4 3.4 0 1 0 6.8 0a3.4 3.4 0 1 0 -6.8 0zM882.2 853.31a3.4 3.4 0 1 0 6.8 0a3.4 3.4 0 1 0 -6.8 0zM887.3 869.31a3.4 3.4 0 1 0 6.8 0a3.4 3.4 0 1 0 -6.8 0zM893.6 856.12a3.4 3.4 0 1 0 6.8 0a3.4 3.4 0 1 0 -6.8 0zM921.1 879.51a3.4 3.4 0 1 0 6.8 0a3.4 3.4 0 1 0 -6.8 0zM927.1 862.71a3.4 3.4 0 1 0 6.8 0a3.4 3.4 0 1 0 -6.8 0zM949.2 864.99a3.4 3.4 0 1 0 6.8 0a3.4 3.4 0 1 0 -6.8 0zM954.2 851.54a3.4 3.4 0 1 0 6.8 0a3.4 3.4 0 1 0 -6.8 0zM960.2 857.17a3.4 3.4 0 1 0 6.8 0a3.4 3.4 0 1 0 -6.8 0zM971.1 826.09a3.4 3.4 0 1 0 6.8 0a3.4 3.4 0 1 0 -6.8 0zM977.2 838.92a3.4 3.4 0 1 0 6.8 0a3.4 3.4 0 1 0 -6.8 0zM982.5 855.6a3.4 3.4 0 1 0 6.8 0a3.4 3.4 0 1 0 -6.8 0zM999.1 868.49a3.4 3.4 0 1 0 6.8 0a3.4 3.4 0 1 0 -6.8 0zM1004.9 837.51a3.4 3.4 0 1 0 6.8 0a3.4 3.4 0 1 0 -6.8 0zM1011.2 854.23a3.4 3.4 0 1 0 6.8 0a3.4 3.4 0 1 0 -6.8 0z" fill="#808080"/>
<path d="M644.8 709.4V760.8M650.6 635.7V673.1M649.8 682.1V720.5M650.6 700.1V774.7M671.4 667V703.6M678.5 653.3V698.7M684.6 662V698.6M682.9 680V714M677.5 712.2V747.4M683.8 710.5V746.1M694.5 670.5V720.5M695.5 693.9V739.3M701.3 665.2V711.2M711.5 665.4V709.4M711.5 674V714M710.3 679.3V719.3M712.3 684.5V733.9M717.3 666.4V696.4M716.4 696.4V740.4M722.6 674V720M721.4 710.1V760.1M722.6 709V769M722.6 742V809M734.7 653.3V685.3M734.4 674.4V708.4M733.2 679.6V713M744.7 635.9V672.9M739.3 691.7V723.1M739.3 697.8V743.6M746.1 679.4V721.4M750.8 686.1V721.7M751.1 699.5V734.9M755.7 687.3V740.9M757.2 668.9V706.9M761.8 658.8V693.6M767.4 686.2V726.2M773.5 646.1V680.1M772.5 654.4V682.4M801.4 624.4V658.4M806.6 580.6V614.6M823.5 549.7V570.7M828.4 572.4V588.4M834.2 603.4V627.4M840 612.5V640.5M845.8 607.2V635.2M851.2 641.8V674.4M857.6 668.5V708.5M863.5 646.9V679.5M869 649.4V687.4M879.8 669.3V699.3M885.6 670.2V703.2M890.7 678.7V731.5M897 674.8V713.8M924.5 693.6V753.6M930.5 679.5V735.5M952.6 688.9V734.1M957.6 673.3V723.3M963.6 679.8V728.6M974.5 652.2V694.8M980.6 665.7V707.3M985.9 675.7V730.9M1002.5 692.7V740.3M1008.3 668.6V702.6M1014.6 678.9V725.9" stroke="#000" stroke-width="2.08" fill="none"/>
<path d="M641.4 735.1a3.4 3.4 0 1 0 6.8 0a3.4 3.4 0 1 0 -6.8 0zM647.2 654.4a3.4 3.4 0 1 0 6.8 0a3.4 3.4 0 1 0 -6.8 0zM646.4 701.3a3.4 3.4 0 1 0 6.8 0a3.4 3.4 0 1 0 -6.8 0zM647.2 737.4a3.4 3.4 0 1 0 6.8 0a3.4 3.4 0 1 0 -6.8 0zM668 685.3a3.4 3.4 0 1 0 6.8 0a3.4 3.4 0 1 0 -6.8 0zM675.1 676a3.4 3.4 0 1 0 6.8 0a3.4 3.4 0 1 0 -6.8 0zM681.2 680.3a3.4 3.4 0 1 0 6.8 0a3.4 3.4 0 1 0 -6.8 0zM679.5 697a3.4 3.4 0 1 0 6.8 0a3.4 3.4 0 1 0 -6.8 0zM674.1 729.8a3.4 3.4 0 1 0 6.8 0a3.4 3.4 0 1 0 -6.8 0zM680.4 728.3a3.4 3.4 0 1 0 6.8 0a3.4 3.4 0 1 0 -6.8 0zM691.1 695.5a3.4 3.4 0 1 0 6.8 0a3.4 3.4 0 1 0 -6.8 0zM692.1 716.6a3.4 3.4 0 1 0 6.8 0a3.4 3.4 0 1 0 -6.8 0zM697.9 688.2a3.4 3.4 0 1 0 6.8 0a3.4 3.4 0 1 0 -6.8 0zM708.1 687.4a3.4 3.4 0 1 0 6.8 0a3.4 3.4 0 1 0 -6.8 0zM708.1 694a3.4 3.4 0 1 0 6.8 0a3.4 3.4 0 1 0 -6.8 0zM706.9 699.3a3.4 3.4 0 1 0 6.8 0a3.4 3.4 0 1 0 -6.8 0zM708.9 709.2a3.4 3.4 0 1 0 6.8 0a3.4 3.4 0 1 0 -6.8 0zM713.9 681.4a3.4 3.4 0 1 0 6.8 0a3.4 3.4 0 1 0 -6.8 0zM713 718.4a3.4 3.4 0 1 0 6.8 0a3.4 3.4 0 1 0 -6.8 0zM719.2 697a3.4 3.4 0 1 0 6.8 0a3.4 3.4 0 1 0 -6.8 0zM718 735.1a3.4 3.4 0 1 0 6.8 0a3.4 3.4 0 1 0 -6.8 0zM719.2 739a3.4 3.4 0 1 0 6.8 0a3.4 3.4 0 1 0 -6.8 0zM719.2 775.5a3.4 3.4 0 1 0 6.8 0a3.4 3.4 0 1 0 -6.8 0zM731.3 669.3a3.4 3.4 0 1 0 6.8 0a3.4 3.4 0 1 0 -6.8 0zM731 691.4a3.4 3.4 0 1 0 6.8 0a3.4 3.4 0 1 0 -6.8 0zM729.8 696.3a3.4 3.4 0 1 0 6.8 0a3.4 3.4 0 1 0 -6.8 0zM741.3 654.4a3.4 3.4 0 1 0 6.8 0a3.4 3.4 0 1 0 -6.8 0zM735.9 707.4a3.4 3.4 0 1 0 6.8 0a3.4 3.4 0 1 0 -6.8 0zM735.9 720.7a3.4 3.4 0 1 0 6.8 0a3.4 3.4 0 1 0 -6.8 0zM742.7 700.4a3.4 3.4 0 1 0 6.8 0a3.4 3.4 0 1 0 -6.8 0zM747.4 703.9a3.4 3.4 0 1 0 6.8 0a3.4 3.4 0 1 0 -6.8 0zM747.7 717.2a3.4 3.4 0 1 0 6.8 0a3.4 3.4 0 1 0 -6.8 0zM752.3 714.1a3.4 3.4 0 1 0 6.8 0a3.4 3.4 0 1 0 -6.8 0zM753.8 687.9a3.4 3.4 0 1 0 6.8 0a3.4 3.4 0 1 0 -6.8 0zM758.4 676.2a3.4 3.4 0 1 0 6.8 0a3.4 3.4 0 1 0 -6.8 0zM764 706.2a3.4 3.4 0 1 0 6.8 0a3.4 3.4 0 1 0 -6.8 0zM770.1 663.1a3.4 3.4 0 1 0 6.8 0a3.4 3.4 0 1 0 -6.8 0zM769.1 668.4a3.4 3.4 0 1 0 6.8 0a3.4 3.4 0 1 0 -6.8 0zM798 641.4a3.4 3.4 0 1 0 6.8 0a3.4 3.4 0 1 0 -6.8 0zM803.2 597.6a3.4 3.4 0 1 0 6.8 0a3.4 3.4 0 1 0 -6.8 0zM820.1 560.2a3.4 3.4 0 1 0 6.8 0a3.4 3.4 0 1 0 -6.8 0zM825 580.4a3.4 3.4 0 1 0 6.8 0a3.4 3.4 0 1 0 -6.8 0zM830.8 615.4a3.4 3.4 0 1 0 6.8 0a3.4 3.4 0 1 0 -6.8 0zM836.6 626.5a3.4 3.4 0 1 0 6.8 0a3.4 3.4 0 1 0 -6.8 0zM842.4 621.2a3.4 3.4 0 1 0 6.8 0a3.4 3.4 0 1 0 -6.8 0zM847.8 658.1a3.4 3.4 0 1 0 6.8 0a3.4 3.4 0 1 0 -6.8 0zM854.2 688.5a3.4 3.4 0 1 0 6.8 0a3.4 3.4 0 1 0 -6.8 0zM860.1 663.2a3.4 3.4 0 1 0 6.8 0a3.4 3.4 0 1 0 -6.8 0zM865.6 668.4a3.4 3.4 0 1 0 6.8 0a3.4 3.4 0 1 0 -6.8 0zM876.4 684.3a3.4 3.4 0 1 0 6.8 0a3.4 3.4 0 1 0 -6.8 0zM882.2 686.7a3.4 3.4 0 1 0 6.8 0a3.4 3.4 0 1 0 -6.8 0zM887.3 705.1a3.4 3.4 0 1 0 6.8 0a3.4 3.4 0 1 0 -6.8 0zM893.6 694.3a3.4 3.4 0 1 0 6.8 0a3.4 3.4 0 1 0 -6.8 0zM921.1 723.6a3.4 3.4 0 1 0 6.8 0a3.4 3.4 0 1 0 -6.8 0zM927.1 707.5a3.4 3.4 0 1 0 6.8 0a3.4 3.4 0 1 0 -6.8 0zM949.2 711.5a3.4 3.4 0 1 0 6.8 0a3.4 3.4 0 1 0 -6.8 0zM954.2 698.3a3.4 3.4 0 1 0 6.8 0a3.4 3.4 0 1 0 -6.8 0zM960.2 704.2a3.4 3.4 0 1 0 6.8 0a3.4 3.4 0 1 0 -6.8 0zM971.1 673.5a3.4 3.4 0 1 0 6.8 0a3.4 3.4 0 1 0 -6.8 0zM977.2 686.5a3.4 3.4 0 1 0 6.8 0a3.4 3.4 0 1 0 -6.8 0zM982.5 703.3a3.4 3.4 0 1 0 6.8 0a3.4 3.4 0 1 0 -6.8 0zM999.1 716.5a3.4 3.4 0 1 0 6.8 0a3.4 3.4 0 1 0 -6.8 0zM1004.9 685.6a3.4 3.4 0 1 0 6.8 0a3.4 3.4 0 1 0 -6.8 0zM1011.2 702.4a3.4 3.4 0 1 0 6.8 0a3.4 3.4 0 1 0 -6.8 0z" fill="#000"/>
<path d="M625 705.8L628.02 705.76L631.05 705.73L634.07 705.69L637.09 705.65L640.12 705.6L643.14 705.55L646.16 705.5L649.18 705.45L652.21 705.39L655.23 705.32L658.25 705.25L661.28 705.18L664.3 705.1L667.32 705.01L670.35 704.92L673.37 704.82L676.39 704.7L679.42 704.58L682.44 704.45L685.46 704.31L688.48 704.16L691.51 703.99L694.53 703.8L697.55 703.6L700.58 703.38L703.6 703.14L706.62 702.88L709.65 702.59L712.67 702.27L715.69 701.91L718.72 701.53L721.74 701.1L724.76 700.62L727.78 700.1L730.81 699.52L733.83 698.87L736.85 698.15L739.88 697.35L742.9 696.46L745.92 695.47L748.95 694.35L751.97 693.1L754.99 691.7L758.02 690.12L761.04 688.35L764.06 686.35L767.08 684.08L770.11 681.52L773.13 678.62L776.15 675.33L779.18 671.58L782.2 667.31L785.22 662.45L788.25 656.91L791.27 650.59L794.29 643.4L797.32 635.26L800.34 626.1L803.36 615.95L806.38 604.94L809.41 593.49L812.43 582.39L815.45 572.89L818.48 566.61L821.5 564.92L824.52 568.24L827.55 575.76L830.57 585.95L833.59 597.29L836.62 608.66L839.64 619.41L842.66 629.25L845.68 638.06L848.71 645.88L851.73 652.77L854.75 658.82L857.78 664.13L860.8 668.79L863.82 672.87L866.85 676.46L869.87 679.62L872.89 682.41L875.92 684.86L878.94 687.04L881.96 688.96L884.98 690.67L888.01 692.18L891.03 693.53L894.05 694.73L897.08 695.81L900.1 696.77L903.12 697.63L906.15 698.4L909.17 699.09L912.19 699.72L915.22 700.28L918.24 700.79L921.26 701.24L924.28 701.66L927.31 702.03L930.33 702.38L933.35 702.68L936.38 702.97L939.4 703.22L942.42 703.46L945.45 703.67L948.47 703.87L951.49 704.05L954.52 704.21L957.54 704.36L960.56 704.5L963.58 704.63L966.61 704.74L969.63 704.85L972.65 704.95L975.68 705.04L978.7 705.13L981.72 705.2L984.75 705.28L987.77 705.35L990.79 705.41L993.82 705.47L996.84 705.52L999.86 705.57L1002.88 705.62L1005.91 705.66L1008.93 705.7L1011.95 705.74L1014.98 705.77L1018 705.81" stroke="#bf00bf" stroke-width="2.25" fill="none" stroke-linejoin="round"/>
<path d="M625 857.6H1018" stroke="#bf00bf" stroke-width="2.25" fill="none"/>
</g>
<rect x="625" y="550" width="393" height="415" fill="none" stroke="#000" stroke-width="2"/>
<path d="M724.5 965v-8.33M724.5 550v8.33M837.5 965v-8.33M837.5 550v8.33M949.5 965v-8.33M949.5 550v8.33M625 611.5h8.33M1018 611.5h-8.33M625 708.5h8.33M1018 708.5h-8.33M625 806.5h8.33M1018 806.5h-8.33M625 905.5h8.33M1018 905.5h-8.33" stroke="#000" stroke-width="1" fill="none"/>
<text x="724.6" y="989.23" text-anchor="middle">4680</text>
<text x="837.1" y="989.23" text-anchor="middle">4700</text>
<text x="949.5" y="989.23" text-anchor="middle">4720</text>
<text x="617.27" y="619.5" text-anchor="end">18<tspan dx="-0.5">.</tspan><tspan dx="-0.5">5</tspan></text>
<text x="617.27" y="717.1" text-anchor="end">19<tspan dx="-0.5">.</tspan><tspan dx="-0.5">0</tspan></text>
<text x="617.27" y="815.3" text-anchor="end">19<tspan dx="-0.5">.</tspan><tspan dx="-0.5">5</tspan></text>
<text x="617.27" y="913.4" text-anchor="end">20<tspan dx="-0.5">.</tspan><tspan dx="-0.5">0</tspan></text>
<text transform="translate(558.2 758.1) rotate(-90)" text-anchor="middle">I [mag]</text>
<text x="822" y="1016.2" text-anchor="middle">HJD-2450000 [days]</text>
</svg></body></html>
